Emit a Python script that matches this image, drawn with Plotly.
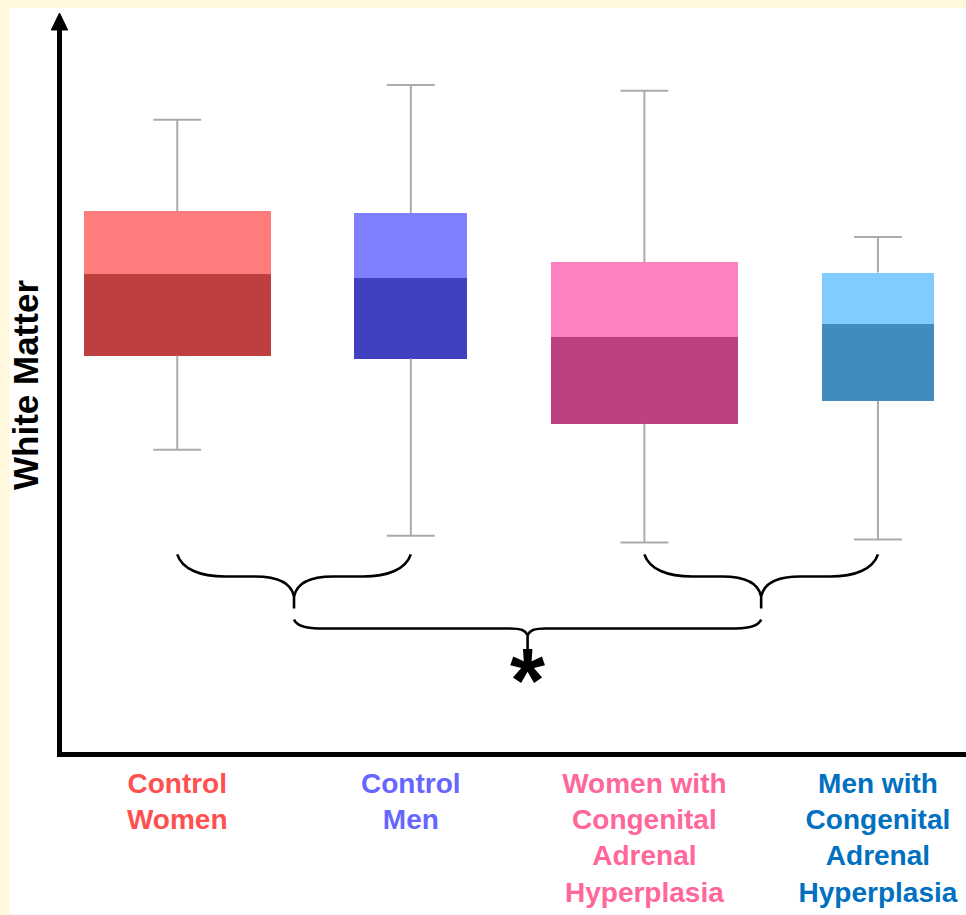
import plotly.graph_objects as go

# ---------------- data ----------------
groups = ["Control Women", "Control Men",
          "Women with Congenital Adrenal Hyperplasia",
          "Men with Congenital Adrenal Hyperplasia"]
tick_lines = [["Control", "Women"], ["Control", "Men"],
              ["Women with", "Congenital", "Adrenal", "Hyperplasia"],
              ["Men with", "Congenital", "Adrenal", "Hyperplasia"]]
upper_whisker = [85.6, 90.3, 89.5, 69.8]
q3_values     = [73.3, 73.0, 66.4, 65.0]
median_values = [64.8, 64.2, 56.3, 58.0]
q1_values     = [53.8, 53.4, 44.6, 47.7]
lower_whisker = [41.1, 29.5, 28.6, 29.0]
significance = "*"

# ---------------- style ----------------
positions = [0, 1, 2, 3]
box_widths = [0.80, 0.483, 0.80, 0.483]
cap_width = 0.205
light_colors = ["#FF7C7C", "#8080FF", "#FF80BF", "#80CCFF"]
dark_colors = ["#BE3F3F", "#4141C0", "#BF407F", "#408BBF"]
label_colors = ["#FF5050", "#6666FF", "#FF6699", "#0070C0"]
FONT = "Liberation Sans"

W, H = 966, 915
L, R, T, B = 61.5, 0, 18, 162.5
plot_w = W - L - R
plot_h = H - T - B

fig = go.Figure()

# whiskers
wx, wy = [], []
for x, lo, q1, q3, hi in zip(positions, lower_whisker, q1_values, q3_values, upper_whisker):
    wx += [x, x, None, x, x, None,
           x - cap_width / 2, x + cap_width / 2, None,
           x - cap_width / 2, x + cap_width / 2, None]
    wy += [q3, hi, None, q1, lo, None, hi, hi, None, lo, lo, None]
fig.add_trace(go.Scatter(x=wx, y=wy, mode="lines",
                         line=dict(color="#ABABAB", width=2),
                         hoverinfo="skip", showlegend=False))

# lower half of box (q1 -> median)
fig.add_trace(go.Bar(x=positions, base=q1_values,
                     y=[m - q for m, q in zip(median_values, q1_values)],
                     width=box_widths, marker=dict(color=dark_colors, line=dict(width=0)),
                     name="Q1 to median", showlegend=False, hovertext=groups))
# upper half of box (median -> q3)
fig.add_trace(go.Bar(x=positions, base=median_values,
                     y=[q - m for q, m in zip(q3_values, median_values)],
                     width=box_widths, marker=dict(color=light_colors, line=dict(width=0)),
                     name="Median to Q3", showlegend=False, hovertext=groups))

# ---------------- braces ----------------
def brace(x0, x1, ytop, yh, yc, ytip, ex, ey, cx, cy, ec, cc):
    xm = (x0 + x1) / 2
    return (f"M {x0},{ytop} C {x0+ec},{ytop-ey} {x0+ex*0.48},{yh} {x0+ex},{yh} "
            f"L {xm-cx},{yh} C {xm-cc},{yh} {xm-0.01},{yh-cy} {xm},{yc} L {xm},{ytip} "
            f"M {xm},{yc} C {xm+0.01},{yh-cy} {xm+cc},{yh} {xm+cx},{yh} "
            f"L {x1-ex},{yh} C {x1-ex*0.48},{yh} {x1-ec},{ytop-ey} {x1},{ytop}")

brace_line = dict(color="black", width=2.6)
bottom_min = min(lower_whisker)
for a, b in [(0, 1), (2, 3)]:
    fig.add_shape(type="path", xref="x", yref="y", line=brace_line,
                  path=brace(positions[a], positions[b], bottom_min - 1.6, bottom_min - 4.6,
                             bottom_min - 7.3, bottom_min - 8.9,
                             0.205, 2.0, 0.167, 1.1, 0.021, 0.06))
mid_a = (positions[0] + positions[1]) / 2
mid_b = (positions[2] + positions[3]) / 2
fig.add_shape(type="path", xref="x", yref="y", line=brace_line,
              path=brace(mid_a, mid_b, bottom_min - 10.4, bottom_min - 11.6,
                         bottom_min - 12.5, bottom_min - 14.4,
                         0.107, 0.95, 0.077, 0.27, 0.013, 0.026))
fig.add_annotation(x=(mid_a + mid_b) / 2, y=bottom_min - 18.7, xref="x", yref="y",
                   text=significance, showarrow=False,
                   font=dict(family=FONT, size=90, color="black", weight="bold"),
                   xanchor="center", yanchor="middle")

# ---------------- background panel & axis arrow ----------------
def px_x(px):
    return (px - L) / plot_w
def px_y(py):
    return (H - B - py) / plot_h

fig.add_shape(type="rect", xref="paper", yref="paper", layer="below",
              x0=px_x(9), x1=px_x(W + 5), y0=px_y(H + 5), y1=px_y(8),
              fillcolor="white", line=dict(width=0))
fig.add_shape(type="path", xref="paper", yref="paper",
              path=f"M {px_x(50.8)},{px_y(30)} L {px_x(59)},{px_y(13)} L {px_x(67.2)},{px_y(30)} Z",
              fillcolor="black", line=dict(color="black", width=1))

ticktext = ["<br>".join(f'<span style="color:{c}">{w}</span>' for w in lines)
            for lines, c in zip(tick_lines, label_colors)]

fig.update_layout(
    width=W, height=H,
    margin=dict(l=L, r=R, t=T, b=B, pad=0),
    paper_bgcolor="#FFF8DC", plot_bgcolor="white",
    barmode="overlay", bargap=0,
    showlegend=False,
    xaxis=dict(range=[(L - 176.8) / 233.7, (W - 176.8) / 233.7],
               tickvals=positions, ticktext=ticktext, ticks="",
               showgrid=False, zeroline=False, showline=True,
               linecolor="black", linewidth=5, ticklabelstandoff=2,
               tickfont=dict(family=FONT, size=28, weight="bold"),
               fixedrange=True),
    yaxis=dict(range=[(755 - (H - B)) / 7.42, (755 - T) / 7.42],
               showticklabels=False, ticks="", showgrid=False, zeroline=False,
               showline=True, linecolor="black", linewidth=5,
               title=dict(text="White Matter", standoff=9,
                          font=dict(family=FONT, size=35, color="black", weight="bold")),
               fixedrange=True),
)

fig.write_html("out.html",
               config={"displayModeBar": False},
               post_script="document.body.style.margin='0';"
                           "document.body.style.background='#FFF8DC';")
